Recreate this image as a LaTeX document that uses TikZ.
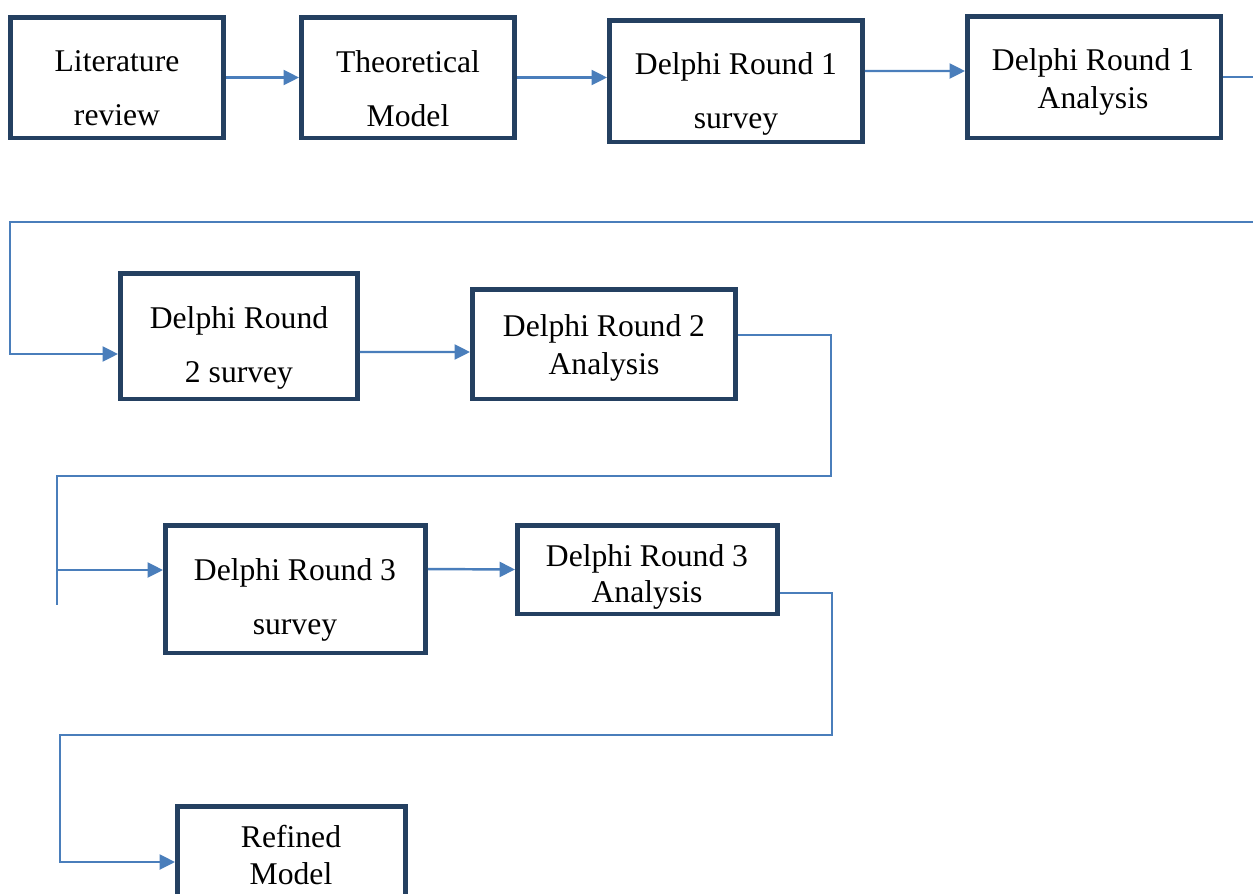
\documentclass[tikz,border=0pt]{standalone}
\usepackage{fontspec}
\setmainfont{Liberation Serif}
\usetikzlibrary{arrows.meta}
\definecolor{boxblue}{RGB}{36,64,97}
\definecolor{lineblue}{RGB}{74,126,187}
\tikzset{
  box/.style={draw=boxblue,line width=2.55pt,inner sep=0pt},
  txt/.style={align=center,font=\fontsize{18}{21.6}\selectfont},
  conn/.style={draw=lineblue,line width=1.4pt},
  >={Triangle[length=0.31cm,width=0.3cm]}
}
\begin{document}
\begin{tikzpicture}[x=0.02cm,y=-0.02cm]
		\useasboundingbox (0,0) rectangle (1253,893);
		% boxes
		\node[box,minimum width=4.27cm,minimum height=2.41cm] (lit) at (117,77.5) {};
		\node[box,minimum width=4.27cm,minimum height=2.41cm] (theo) at (408,77.5) {};
		\node[box,minimum width=5.07cm,minimum height=2.43cm] (d1s) at (736,81) {};
		\node[box,minimum width=5.07cm,minimum height=2.43cm] (d1a) at (1094,77) {};
		\node[box,minimum width=4.75cm,minimum height=2.51cm] (d2s) at (239,336) {};
		\node[box,minimum width=5.27cm,minimum height=2.19cm] (d2a) at (604,344) {};
		\node[box,minimum width=5.21cm,minimum height=2.55cm] (d3s) at (295.5,589) {};
		\node[box,minimum width=5.21cm,minimum height=1.77cm] (d3a) at (647.5,569.5) {};
		\node[box,minimum width=4.57cm,minimum height=2.43cm] (refm) at (291.5,867) {};
		% texts
		\node[txt] (litT) at (117,88) {Literature\\[9pt]review};
		\node[txt] (theoT) at (408,88.5) {Theoretical\\[9pt]Model};
		\node[txt] (d1sT) at (736,94) {Delphi Round 1\\[9pt]survey};
		\node[txt] (d1aT) at (1093,82) {Delphi Round 1\\Analysis};
		\node[txt] (d2sT) at (239,348) {Delphi Round\\[9pt]2 survey};
		\node[txt] (d2aT) at (604,348) {Delphi Round 2\\Analysis};
		\node[txt] (d3sT) at (295,600) {Delphi Round 3\\[9pt]survey};
		\node[txt] (d3aT) at (647,577) {Delphi Round 3\\[-1pt]Analysis};
		\node[txt] (refmT) at (291,855) {Refined\\Model};
		% turning points
		\coordinate (r1) at (1280,222);
		\coordinate (l1) at (10,222);
		\coordinate (r2) at (831,476);
		\coordinate (l2) at (57,605);
		\coordinate (a2) at (57,570);
		\coordinate (r3) at (832,735);
		\coordinate (l3) at (60,862);
		% connectors
		\draw[->,conn] (lit.east) -- (theo.west);
		\draw[->,conn] (theo.east) -- (theo.east -| d1s.west);
		\draw[->,conn] ([yshift=0.2cm]d1s.east) -- ([yshift=0.12cm]d1a.west);
		\draw[->,conn] (d1a.east) -| (r1) -- (l1) |- ([yshift=-0.36cm]d2s.west);
		\draw[->,conn] ([yshift=-0.32cm]d2s.east) -- ([yshift=-0.16cm]d2a.west);
		\draw[conn] ([yshift=0.18cm]d2a.east) -| (r2) -| (l2);
		\draw[->,conn] (a2) -- (a2 -| d3s.west);
		\draw[->,conn] ([yshift=0.4cm]d3s.east) -- (d3a.west);
		\draw[->,conn] ([yshift=-0.47cm]d3a.east) -| (r3) -| (l3) -- (l3 -| refm.west);
	\end{tikzpicture}
\end{document}
